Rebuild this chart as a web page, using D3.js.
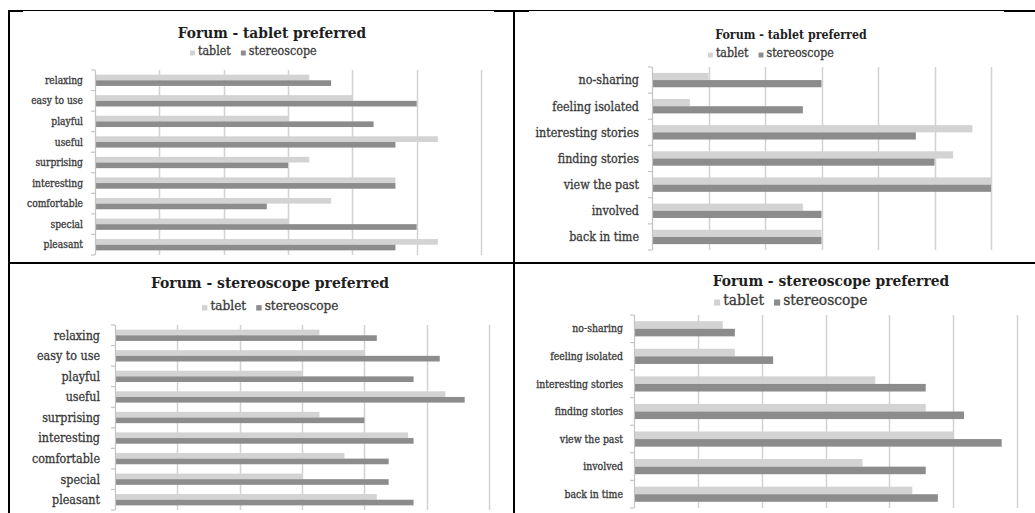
<!DOCTYPE html>
<html>
<head>
<meta charset="utf-8">
<script src="https://cdn.jsdelivr.net/npm/d3@7"></script>
<style>
  html, body { margin: 0; padding: 0; background: #fff; }
  svg { display: block; }
  text { font-family: "DejaVu Serif Condensed", "DejaVu Serif", serif; font-stretch: condensed; }
  .lbl { stroke: #3a3a3a; stroke-width: 0.3px; paint-order: stroke; }
</style>
</head>
<body>
<svg id="fig" width="1035" height="513"></svg>
<script>
// ---- data ----------------------------------------------------------------
const seriesNames = ["tablet", "stereoscope"];

const attributes = ["relaxing", "easy to use", "playful", "useful", "surprising",
                    "interesting", "comfortable", "special", "pleasant"];
const experiences = ["no-sharing", "feeling isolated", "interesting stories",
                     "finding stories", "view the past", "involved", "back in time"];

// group that preferred the tablet
const tabletPrefAttrTablet = [3.33, 4.0, 3.0, 5.33, 3.33, 4.67, 3.67, 3.0, 5.33];
const tabletPrefAttrStereo = [3.67, 5.0, 4.33, 4.67, 3.0, 4.67, 2.67, 5.0, 4.67];
const tabletPrefExpTablet  = [1.0, 0.67, 5.67, 5.33, 6.0, 2.67, 3.0];
const tabletPrefExpStereo  = [3.0, 2.67, 4.67, 5.0, 6.0, 3.0, 3.0];

// group that preferred the stereoscope
const stereoPrefAttrTablet = [3.28, 4.0, 3.0, 5.3, 3.28, 4.7, 3.68, 3.0, 4.2];
const stereoPrefAttrStereo = [4.2, 5.21, 4.79, 5.61, 4.0, 4.79, 4.39, 4.39, 4.79];
const stereoPrefExpTablet  = [1.39, 1.58, 3.78, 4.57, 5.0, 3.58, 4.36];
const stereoPrefExpStereo  = [1.58, 2.18, 4.57, 5.17, 5.76, 4.57, 4.76];

const valueTicks = [0, 1, 2, 3, 4, 5, 6];

// ---- layout --------------------------------------------------------------
const svg = d3.select("#fig");
const colors = { tablet: "#d3d3d3", stereoscope: "#8c8c8c" };
const gridColor = "#d2d2d2";
const labelColor = "#3a3a3a";

const panels = [
  { title: "Forum - tablet preferred", cats: attributes,
    tablet: tabletPrefAttrTablet, stereo: tabletPrefAttrStereo,
    x0: 95, x1: 481, top: 70, bottom: 255,
    titleX: 272, titleY: 38, titleSize: 15.3,
    legendX: 190, legendY: 55, legendSize: 12.4,
    labelSize: 10.2, labelGap: 12 },
  { title: "Forum - tablet preferred", cats: experiences,
    tablet: tabletPrefExpTablet, stereo: tabletPrefExpStereo,
    x0: 652, x1: 991, top: 67, bottom: 250,
    titleX: 791, titleY: 39, titleSize: 12.3,
    legendX: 708, legendY: 57, legendSize: 12.3,
    labelSize: 12.4, labelGap: 13 },
  { title: "Forum - stereoscope preferred", cats: attributes,
    tablet: stereoPrefAttrTablet, stereo: stereoPrefAttrStereo,
    x0: 115, x1: 489, top: 325, bottom: 510,
    titleX: 270, titleY: 288, titleSize: 15.5,
    legendX: 202, legendY: 310, legendSize: 13.5,
    labelSize: 12.4, labelGap: 15 },
  { title: "Forum - stereoscope preferred", cats: experiences,
    tablet: stereoPrefExpTablet, stereo: stereoPrefExpStereo,
    x0: 634, x1: 1017, top: 315, bottom: 508,
    titleX: 831, titleY: 286, titleSize: 15.4,
    legendX: 714, legendY: 305, legendSize: 15.4,
    labelSize: 10.4, labelGap: 11 }
];

panels.forEach(p => {
  const g = svg.append("g");

  const x = d3.scaleLinear().domain([0, 6]).range([p.x0, p.x1]);
  const y = d3.scaleBand().domain(p.cats).range([p.top, p.bottom]).padding(0);
  const groupH = y.bandwidth() * 0.55;
  const ySeries = d3.scaleBand().domain(seriesNames).range([0, groupH]).padding(0);

  // vertical gridlines
  g.append("g").selectAll("line")
    .data(valueTicks.filter(v => v > 0))
    .join("line")
      .attr("x1", d => Math.round(x(d)) + 0.5)
      .attr("x2", d => Math.round(x(d)) + 0.5)
      .attr("y1", p.top)
      .attr("y2", p.bottom)
      .attr("stroke", gridColor)
      .attr("stroke-width", 1.5);

  // bars
  const rows = p.cats.map((c, i) => ({ cat: c, tablet: p.tablet[i], stereoscope: p.stereo[i] }));
  const rowG = g.append("g").selectAll("g")
    .data(rows)
    .join("g")
      .attr("transform", d => `translate(0,${y(d.cat) + (y.bandwidth() - groupH) / 2})`);
  rowG.selectAll("rect")
    .data(d => seriesNames.map(s => ({ key: s, value: d[s] })))
    .join("rect")
      .attr("x", x(0))
      .attr("y", d => ySeries(d.key))
      .attr("width", d => x(d.value) - x(0))
      .attr("height", ySeries.bandwidth())
      .attr("fill", d => colors[d.key]);

  // category axis with outward ticks at band edges
  const axisG = g.append("g");
  axisG.append("line")
    .attr("x1", p.x0 + 0.5).attr("x2", p.x0 + 0.5)
    .attr("y1", p.top).attr("y2", p.bottom)
    .attr("stroke", "#c4c4c4").attr("stroke-width", 1.2);
  const edges = p.cats.map(c => y(c)).concat([p.bottom]);
  axisG.selectAll("line.tick")
    .data(edges)
    .join("line")
      .attr("class", "tick")
      .attr("x1", p.x0 - 4).attr("x2", p.x0)
      .attr("y1", d => d).attr("y2", d => d)
      .attr("stroke", "#c4c4c4").attr("stroke-width", 1.2);
  axisG.selectAll("text")
    .data(p.cats)
    .join("text")
      .attr("class", "lbl")
      .attr("x", p.x0 - p.labelGap)
      .attr("y", d => y(d) + y.bandwidth() / 2)
      .attr("dy", "0.35em")
      .attr("text-anchor", "end")
      .attr("font-size", p.labelSize)
      .attr("fill", labelColor)
      .text(d => d);

  // title
  g.append("text")
    .attr("x", p.titleX).attr("y", p.titleY)
    .attr("text-anchor", "middle")
    .attr("font-size", p.titleSize)
    .attr("font-weight", "bold")
    .attr("fill", "#1e1e1e")
    .text(p.title);

  // legend
  const leg = g.append("g").attr("transform", `translate(${p.legendX},${p.legendY})`);
  let cursor = 0;
  seriesNames.forEach(s => {
    const sw = p.legendSize * 0.4;
    leg.append("rect")
      .attr("x", cursor).attr("y", -sw * 0.9)
      .attr("width", sw).attr("height", sw)
      .attr("fill", colors[s]);
    const t = leg.append("text")
      .attr("class", "lbl")
      .attr("x", cursor + sw + 3).attr("y", 0)
      .attr("font-size", p.legendSize)
      .attr("fill", labelColor)
      .text(s);
    cursor += sw + 3 + t.node().getComputedTextLength() + 10;
  });
});

// ---- table rules framing the four charts ---------------------------------
const rules = svg.append("g").attr("fill", "#000");
rules.append("rect").attr("x", 8).attr("y", 10).attr("width", 1027).attr("height", 1);
rules.append("rect").attr("x", 8).attr("y", 10).attr("width", 15).attr("height", 2);
rules.append("rect").attr("x", 494).attr("y", 10).attr("width", 35).attr("height", 2);
rules.append("rect").attr("x", 1004).attr("y", 10).attr("width", 31).attr("height", 2);
rules.append("rect").attr("x", 8).attr("y", 10).attr("width", 2).attr("height", 503);
rules.append("rect").attr("x", 513).attr("y", 10).attr("width", 2).attr("height", 503);
rules.append("rect").attr("x", 8).attr("y", 262).attr("width", 1027).attr("height", 2);
</script>
</body>
</html>
